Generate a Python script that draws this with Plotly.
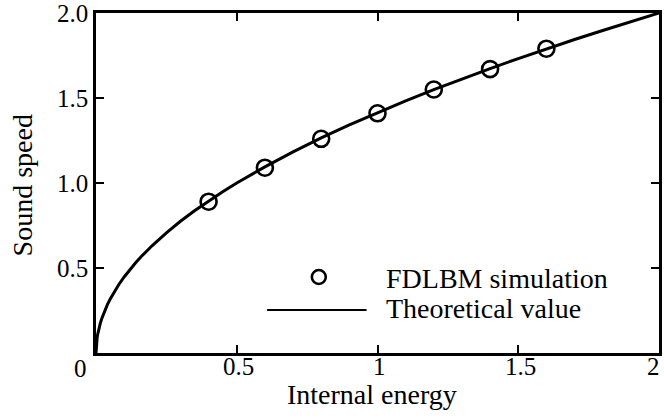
import plotly.graph_objects as go

# FDLBM simulation results: internal energy vs. sound speed
sim_energy = [0.4, 0.6, 0.8, 1.0, 1.2, 1.4, 1.6]
sim_speed = [0.89, 1.09, 1.26, 1.41, 1.55, 1.67, 1.79]

# Theoretical sound speed curve
theory_energy = [0.0, 0.001, 0.002, 0.004, 0.006, 0.008, 0.01, 0.015, 0.02, 0.03,
                 0.04, 0.05, 0.06, 0.07, 0.08, 0.1, 0.12, 0.14, 0.16, 0.18, 0.2,
                 0.25, 0.3, 0.35, 0.4, 0.45, 0.5, 0.6, 0.7, 0.8, 0.9, 1.0, 1.1,
                 1.2, 1.3, 1.4, 1.5, 1.6, 1.7, 1.8, 1.9, 2.0]
theory_speed = [0.0, 0.045, 0.063, 0.089, 0.11, 0.126, 0.141, 0.173, 0.2, 0.245,
                0.283, 0.316, 0.346, 0.374, 0.4, 0.447, 0.49, 0.529, 0.566, 0.6, 0.632,
                0.707, 0.775, 0.837, 0.894, 0.949, 1.0, 1.095, 1.183, 1.265, 1.342, 1.414, 1.483,
                1.549, 1.612, 1.673, 1.732, 1.789, 1.844, 1.897, 1.949, 2.0]

x_ticks = [0.5, 1.0, 1.5, 2.0]
x_tick_labels = ["0.5", "1", "1.5", "2"]
y_ticks = [0.5, 1.0, 1.5, 2.0]
y_tick_labels = ["0.5", "1.0", "1.5", "2.0"]

FONT = "Liberation Serif"
TICK_FS = 25
TITLE_FS = 28
LEG_FS = 28

fig = go.Figure()
fig.add_trace(go.Scatter(
    x=theory_energy, y=theory_speed, mode="lines",
    line=dict(color="black", width=3),
    name="Theoretical value", showlegend=False,
))
fig.add_trace(go.Scatter(
    x=sim_energy, y=sim_speed, mode="markers",
    marker=dict(symbol="circle-open", size=16, color="black", line=dict(width=2.6)),
    name="FDLBM simulation", showlegend=False,
))

axis_common = dict(
    showline=True, linecolor="black", linewidth=2.5, mirror="ticks",
    ticks="inside", ticklen=8, tickwidth=2, tickcolor="black",
    showgrid=False, zeroline=False, showticklabels=False,
)

fig.update_layout(
    width=664, height=419,
    margin=dict(l=96, r=2, t=13, b=66),
    paper_bgcolor="white", plot_bgcolor="white",
    font=dict(family=FONT, size=TICK_FS, color="black"),
    xaxis=dict(range=[0, 2], tickvals=x_ticks, **axis_common),
    yaxis=dict(range=[0, 2], tickvals=y_ticks, **axis_common),
)

# pixel helpers for paper coordinates
W, H, L, T = 566, 340, 96, 13
def px(x):
    return (x - L) / W
def py(y):
    return 1 - (y - T) / H

tick_font = dict(family=FONT, size=TICK_FS, color="black")

# x tick labels sit tight under the axis
for v, lab in zip(x_ticks, x_tick_labels):
    last = v == x_ticks[-1]
    fig.add_annotation(x=v, xref="x", y=py(366), yref="paper", text=lab, showarrow=False,
                       xanchor="right" if last else "center", yanchor="middle",
                       xshift=2 if last else 2, borderpad=0, font=tick_font)

# y tick labels
for v, lab in zip(y_ticks, y_tick_labels):
    fig.add_annotation(x=px(89), xref="paper", y=v, yref="y", text=lab, showarrow=False,
                       xanchor="right", yanchor="middle", borderpad=0, font=tick_font)

# shared origin label
fig.add_annotation(x=px(80), y=py(368), xref="paper", yref="paper", text="0", showarrow=False,
                   xanchor="center", yanchor="middle", borderpad=0, font=tick_font)

# axis titles
fig.add_annotation(x=px(373), y=py(394), xref="paper", yref="paper", text="Internal energy",
                   showarrow=False, xanchor="center", yanchor="middle", borderpad=0,
                   font=dict(family=FONT, size=TITLE_FS, color="black"))
fig.add_annotation(x=px(22), y=py(185), xref="paper", yref="paper", text="Sound speed",
                   showarrow=False, xanchor="center", yanchor="middle", textangle=-90,
                   font=dict(family=FONT, size=TITLE_FS, color="black"))

# legend keys
fig.add_shape(type="circle", xref="paper", yref="paper",
              x0=px(313), x1=px(327), y0=py(284), y1=py(270),
              line=dict(color="black", width=2.6))
fig.add_shape(type="line", xref="paper", yref="paper",
              x0=px(268), x1=px(368), y0=py(310), y1=py(310),
              line=dict(color="black", width=2))
fig.add_annotation(xref="paper", yref="paper", x=px(386), y=py(278),
                   text="FDLBM simulation", showarrow=False, xanchor="left", yanchor="middle",
                   font=dict(family=FONT, size=LEG_FS, color="black"))
fig.add_annotation(xref="paper", yref="paper", x=px(386), y=py(308),
                   text="Theoretical value", showarrow=False, xanchor="left", yanchor="middle",
                   font=dict(family=FONT, size=LEG_FS, color="black"))

fig.write_html("out.html")
